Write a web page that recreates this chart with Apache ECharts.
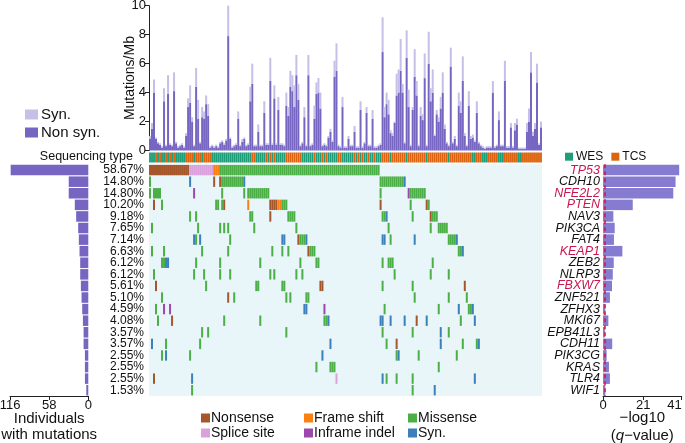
<!DOCTYPE html>
<html><head><meta charset="utf-8">
<script src="https://cdn.jsdelivr.net/npm/echarts@6/dist/echarts.min.js"></script>
<style>html,body{margin:0;padding:0;background:#fff}#c{width:685px;height:443px}</style>
</head><body><div id="c"></div>
<script>
const FF = '"Liberation Sans", Arial, Helvetica, sans-serif';

// ---------- DATA ----------
const genes = ['TP53','CDH10','NFE2L2','PTEN','NAV3','PIK3CA','FAT4','KEAP1','ZEB2','NLRP3','FBXW7','ZNF521','ZFHX3','MKI67','EPB41L3','CDH11','PIK3CG','KRAS','TLR4','WIF1'];
const highlightGenes = ['TP53','NFE2L2','PTEN','KEAP1','FBXW7'];
const pctLabels = ['58.67%','14.80%','14.80%','10.20%','9.18%','7.65%','7.14%','6.63%','6.12%','6.12%','5.61%','5.10%','4.59%','4.08%','3.57%','3.57%','2.55%','2.55%','2.55%','1.53%'];
const individuals = [115,29,29,20,18,15,14,13,12,12,11,10,9,8,7,7,5,5,5,3];
const qScores = [39.7,37.8,36.6,15.5,5.4,6.1,5.7,10.1,5.6,5.1,4.7,3.6,1.2,2.8,1.0,4.8,1.9,3.1,3.6,1.2];
const qThreshold = 0.7;
const rightTicks = [0,21,41];

const nonSyn = [
0.8,1.5,4.0,0.8,0.5,0.4,0.2,3.4,0.3,3.9,
0.4,0.3,4.1,0.5,0.2,0.3,0.4,0.2,1.0,3.0,
3.3,2.0,0.3,4.4,2.2,0.5,2.3,2.2,3.2,2.4,
0.2,0.3,0.2,0.3,0.2,0.5,0.6,0.4,0.7,7.9,
0.8,0.2,0.3,0.4,2.2,0.3,0.6,0.8,0.3,0.4,
3.4,4.6,0.3,0.3,1.3,0.3,0.3,2.6,0.4,0.4,
4.8,0.4,3.6,0.4,2.8,0.4,0.4,0.3,3.1,2.4,
4.4,4.1,3.0,5.2,3.5,0.3,0.5,2.3,0.3,5.2,
0.3,0.4,2.2,3.9,4.0,2.9,0.3,0.4,0.3,0.9,
1.3,0.6,5.1,5.5,0.3,0.2,3.0,0.2,0.2,0.8,
0.3,0.3,1.3,0.2,0.2,2.8,0.2,0.5,2.6,0.3,
0.3,2.2,0.2,0.2,0.3,0.4,6.8,2.3,3.2,2.5,
1.2,1.0,1.9,3.8,4.0,5.5,4.0,0.5,6.4,3.0,
0.3,2.8,5.1,3.8,0.3,2.4,2.1,5.0,0.3,6.0,
3.4,4.0,1.0,2.5,2.0,2.9,4.0,1.5,0.5,0.3,
5.8,0.5,0.8,0.3,3.1,2.6,4.8,1.0,0.3,3.1,
0.8,0.9,0.6,2.6,0.5,0.3,0.2,0.1,0.2,0.2,
0.2,4.0,0.2,0.3,2.1,0.3,0.3,4.8,0.2,0.2,
1.6,0.2,1.4,1.8,0.1,0.1,0.1,0.1,1.3,2.0,
5.4,1.0,1.5,4.7,0.4,1.6];
const syn = [
0.2,0.4,0.9,0.1,0.1,0.1,0.1,0.9,0.1,1.3,
0.1,0.1,1.3,0.1,0.1,0.1,0.1,0.1,0.2,0.6,
1.2,0.3,0.1,1.3,1.3,0.1,0.7,0.5,0.6,0.8,
0.1,0.1,0.1,0.1,0.1,0.1,0.1,0.1,0.1,2.2,
0.1,0.1,0.1,0.1,0.5,0.1,0.2,0.1,0.1,0.1,
1.0,1.4,0.1,0.1,0.5,0.1,0.1,0.8,0.1,0.1,
1.6,0.1,0.9,0.1,0.9,0.1,0.1,0.1,0.9,0.6,
1.1,1.1,1.5,1.4,1.1,0.1,0.1,0.7,0.1,1.4,
0.1,0.1,0.9,0.8,1.0,1.1,0.1,0.1,0.1,0.1,
0.2,0.1,1.1,1.9,0.1,0.1,0.7,0.1,0.1,0.2,
0.1,0.1,0.4,0.1,0.1,0.6,0.1,0.1,0.4,0.1,
0.1,0.6,0.1,0.1,0.1,0.1,2.4,0.7,0.8,1.0,
0.2,0.2,0.1,1.5,1.6,2.2,0.6,0.1,1.9,1.2,
0.1,0.2,1.9,1.0,0.1,0.6,0.4,1.7,0.1,2.2,
0.9,1.6,0.1,0.3,0.3,0.8,1.4,0.3,0.1,0.1,
1.3,0.1,0.2,0.1,0.9,0.8,1.7,0.2,0.1,1.0,
0.2,0.2,0.1,0.8,0.1,0.1,0.1,0.1,0.1,0.1,
0.1,0.8,0.1,0.1,0.6,0.1,0.1,1.4,0.1,0.1,
0.3,0.1,0.5,0.4,0.1,0.1,0.1,0.1,0.6,0.9,
1.4,0.3,0.4,1.3,0.1,0.4];

// W = WES, T = TCS
const seqType = 'WWWTWTWWTW' + 'TWTWWWWWTT' + 'TTWTTTWTTT' + 'TWWWWWWWWW' + 'WWWWWWWWWW' +
  'WTTWWWWWTW' + 'TWTWWWWWTT' + 'TTTTTTWWWW' + 'WWTWWWTWTW' + 'WWWWTTWWWW' +
  'WWTWTWTWWT' + 'WWTWWWTTTT' + 'WTTTTTTTWT' + 'TTTTTTTTWT' + 'TTTTTTTTTW' +
  'TTTTTTTTTT' + 'TWWTTTWWWT' + 'TTTTWWWTTT' + 'TTTTWWTTTT' + 'TTTTTT';

// mutation codes per gene: sample index (or range) + type letter
// N Nonsense, S Splice site, F Frame shift, M Missense, I Inframe indel, Y Syn.
const geneMutations = [
  '0-19N 20-31S 32-34F 35-114M',
  '0M 20Y 32N 35N 36-46M 47Y 115-126M 127Y',
  '0M 2-5M 22I 36M 47M 49-59M 115M 129I 130-137M',
  '2N 6M 33M 34M 36M 37N 49F 60-63N 64-65F 66-68M 115N 130M 138N 139M',
  '20M 23M 50-51M 60N 69-72M 116-117M 118Y 131M 140N 141-143M',
  '1M 24M 35M 37M 39M 52M 73M 119M 140M 144-148M',
  '22Y 23M 25Y 40M 66-67Y 74N 75-77M 78Y 116-117Y 120M 132Y 149-152M 153Y',
  '1M 7M 26M 39M 61M 66M 69M 79N 80-82M 154-155M 156Y',
  '6M 7M 8-9Y 23M 35M 55M 75M 83-84M 116M 119-121M 141M',
  '2M 22M 27M 35M 40M 60M 62M 73M 76M 122M 140M 149M',
  '3N 28M 53-54M 66-67M 85-86N 116M 131M 157N',
  '6M 39N 42M 68M 70M 78-79M 132M 149M 158M',
  '3M 7I 10I 77-78Y 87I 117M 144M 154Y 159-160M 161Y',
  '4M 11N 37M 55M 87-88M 89Y 115-116Y 120Y 127Y 133N 138Y 155M 162Y',
  '26M 29M 68M 116M 131M 145Y 149M',
  '1Y 8M 25M 90Y 118M 123N 145Y 156M 163M 164Y',
  '6M 8Y 20M 86Y 123M 124Y 134M 153M',
  '83M 90-92M 144M',
  '2N 21Y 93S 116Y 118M 123M 131M 162Y',
  '21M 131M 142Y'
];
const mutTypes = [
  {code:'N', name:'Nonsense', color:'#a5562b'},
  {code:'S', name:'Splice site', color:'#d9a2dc'},
  {code:'F', name:'Frame shift', color:'#fb8013'},
  {code:'I', name:'Inframe indel', color:'#9a48ad'},
  {code:'M', name:'Missense', color:'#4cae46'},
  {code:'Y', name:'SynMut', color:'#3b7fbb'}
];

// ---------- BUILD ----------
const samples = nonSyn.map((_, i) => 'S' + (i + 1));
const cells = {};
mutTypes.forEach(t => cells[t.code] = []);
geneMutations.forEach((str, g) => {
  str.split(/\s+/).forEach(tok => {
    const m = tok.match(/^(\d+)(?:-(\d+))?([A-Z])$/);
    if (!m) return;
    const a = +m[1], b = m[2] ? +m[2] : a;
    for (let s = a; s <= b; s++) cells[m[3]].push([s, g]);
  });
});

const PURPLE = '#7666c2', LAV = '#c4c0e8';
const WES = '#1d9e78', TCS = '#dc6410';
const axisLineStyle = {lineStyle:{color:'#222', width:1}};
const G = {left:149, width:393};
const ROWTOP = 164.3, ROWH = 231.7;

function cellRender(color){
  return function(params, api){
    const p = api.coord([api.value(0), api.value(1)]);
    const sz = api.size([1, 1]);
    return {type:'rect', shape:{x:p[0]-sz[0]/2, y:p[1]-sz[1]/2+0.6, width:sz[0], height:sz[1]-1.2},
      style:{fill:color}};
  };
}
const legendText = {color:'#111', fontFamily:FF};
const NB = {outerBoundsMode:'none', containLabel:false};

const chart = echarts.init(document.getElementById('c'), null, {renderer:'canvas'});
const option = {
  animation:false,
  textStyle:{fontFamily:FF},
  grid:[
    {...NB, left:G.left, width:G.width, top:5.7, height:144.8},
    {...NB, left:G.left, width:G.width, top:152.5, height:10},
    {...NB, left:G.left, width:G.width, top:ROWTOP, height:ROWH, show:true, backgroundColor:'#e8f5f8', borderWidth:0},
    {...NB, left:10, width:78.3, top:ROWTOP, height:ROWH},
    {...NB, left:603, width:78.7, top:ROWTOP, height:ROWH}
  ],
  xAxis:[
    {gridIndex:0, type:'category', data:samples, show:false},
    {gridIndex:1, type:'category', data:samples, show:false},
    {gridIndex:2, type:'category', data:samples, axisLine:{show:false}, axisTick:{show:false}, axisLabel:{show:false},
      splitLine:{show:true, interval:0, lineStyle:{color:'rgba(255,255,255,0.3)', width:0.5}}},
    {gridIndex:3, type:'value', inverse:true, min:0, max:116, interval:58, position:'bottom',
      axisLine:{show:true, ...axisLineStyle}, axisTick:{show:true, length:4, lineStyle:{color:'#222'}},
      splitLine:{show:false},
      axisLabel:{fontSize:13, color:'#111', margin:3, fontFamily:FF},
      name:'Individuals\nwith mutations', nameLocation:'middle', nameGap:15, nameMoveOverlap:false,
      nameTextStyle:{fontSize:15, color:'#111', lineHeight:16, verticalAlign:'top', fontFamily:FF}},
    {gridIndex:4, type:'value', min:0, max:41, position:'bottom',
      axisLine:{show:true, ...axisLineStyle},
      axisTick:{show:true, length:4, customValues:rightTicks, lineStyle:{color:'#222'}},
      splitLine:{show:false},
      axisLabel:{fontSize:13, color:'#111', margin:3, customValues:rightTicks, fontFamily:FF,
        alignMaxLabel:'right', hideOverlap:false},
      name:'\u2212log10\n({q|q}\u2212value)', nameLocation:'middle', nameGap:13, nameMoveOverlap:false,
      nameTextStyle:{fontSize:15, color:'#111', lineHeight:18, verticalAlign:'top', fontFamily:FF,
        rich:{q:{fontStyle:'italic', fontSize:15, color:'#111', fontFamily:FF}}}}
  ],
  yAxis:[
    {gridIndex:0, type:'value', min:0, max:10, interval:2,
      axisLine:{show:true, ...axisLineStyle}, axisTick:{show:true, length:4, lineStyle:{color:'#222'}},
      splitLine:{show:false}, axisLabel:{fontSize:13, color:'#111', margin:3, fontFamily:FF},
      name:'Mutations/Mb', nameLocation:'middle', nameGap:12, nameMoveOverlap:false,
      nameTextStyle:{fontSize:14, color:'#111', fontFamily:FF}},
    {gridIndex:1, type:'value', min:0, max:1, show:false},
    {gridIndex:2, type:'category', data:genes, inverse:true,
      axisLine:{show:false}, axisTick:{show:false}, splitLine:{show:false},
      axisLabel:{interval:0, fontSize:12, color:'#111', margin:5, fontFamily:FF,
        formatter:(v, i) => pctLabels[i]}},
    {gridIndex:3, type:'category', data:genes, inverse:true, show:false},
    {gridIndex:4, type:'category', data:genes, inverse:true,
      axisLine:{show:false}, axisTick:{show:false}, splitLine:{show:false},
      axisLabel:{interval:0, margin:3, fontFamily:FF,
        formatter:v => (highlightGenes.includes(v) ? '{r|' : '{k|') + v + '}',
        rich:{
          r:{color:'#c9174f', fontStyle:'italic', fontSize:12.5, fontFamily:FF},
          k:{color:'#111', fontStyle:'italic', fontSize:12.5, fontFamily:FF}
        }}}
  ],
  legend:[
    {data:['Syn.','Non syn.'], orient:'vertical', left:25, top:107, padding:0, itemWidth:13, itemHeight:10, itemGap:3,
      icon:'rect', selectedMode:false, textStyle:{...legendText, fontSize:15, padding:[0,0,0,-2]}},
    {data:['WES','TCS'], orient:'horizontal', left:565, top:150.7, padding:0, itemWidth:8, itemHeight:8, itemGap:8,
      icon:'rect', selectedMode:false, textStyle:{...legendText, fontSize:12, padding:[0,0,0,-2]}},
    {data:['Nonsense','Splice site'], orient:'vertical', left:201, top:411, padding:0, itemWidth:9, itemHeight:9, itemGap:1,
      icon:'rect', selectedMode:false, textStyle:{...legendText, fontSize:14, padding:[0,0,0,-4]}},
    {data:['Frame shift','Inframe indel'], orient:'vertical', left:304, top:411, padding:0, itemWidth:9, itemHeight:9, itemGap:1,
      icon:'rect', selectedMode:false, textStyle:{...legendText, fontSize:14, padding:[0,0,0,-4]}},
    {data:['Missense','SynMut'], orient:'vertical', left:408, top:411, padding:0, itemWidth:9, itemHeight:9, itemGap:1,
      icon:'rect', selectedMode:false, formatter:n => n === 'SynMut' ? 'Syn.' : n,
      textStyle:{...legendText, fontSize:14, padding:[0,0,0,-4]}}
  ],
  graphic:[
    {type:'text', x:133, y:157, style:{text:'Sequencing type', align:'right', verticalAlign:'middle',
      fontSize:12.5, fontFamily:FF, fill:'#111'}}
  ],
  series:[
    {name:'Non syn.', type:'bar', xAxisIndex:0, yAxisIndex:0, stack:'tmb', data:nonSyn,
      barCategoryGap:'0%', itemStyle:{color:PURPLE}},
    {name:'Syn.', type:'bar', xAxisIndex:0, yAxisIndex:0, stack:'tmb', data:syn,
      barCategoryGap:'0%', itemStyle:{color:LAV}},
    {name:'WES', type:'bar', xAxisIndex:1, yAxisIndex:1, barGap:'-100%', barCategoryGap:'6%',
      data:seqType.split('').map(t => t === 'W' ? 1 : '-'), itemStyle:{color:WES}},
    {name:'TCS', type:'bar', xAxisIndex:1, yAxisIndex:1, barGap:'-100%', barCategoryGap:'6%',
      data:seqType.split('').map(t => t === 'T' ? 1 : '-'), itemStyle:{color:TCS}},
    ...mutTypes.map(t => ({
      name:t.name, type:'custom', xAxisIndex:2, yAxisIndex:2, data:cells[t.code],
      itemStyle:{color:t.color}, renderItem:cellRender(t.color), z:3
    })),
    {name:'individuals', type:'bar', xAxisIndex:3, yAxisIndex:3, data:individuals,
      barCategoryGap:'9%', itemStyle:{color:PURPLE}},
    {name:'qscore', type:'bar', xAxisIndex:4, yAxisIndex:4, data:qScores,
      barCategoryGap:'9%', itemStyle:{color:'#857bd0'},
      markLine:{silent:true, symbol:'none', label:{show:false},
        lineStyle:{color:'#d4123f', type:[4,3], width:1.5},
        data:[{xAxis:qThreshold}]}}
  ]
};
chart.setOption(option);
</script></body></html>
